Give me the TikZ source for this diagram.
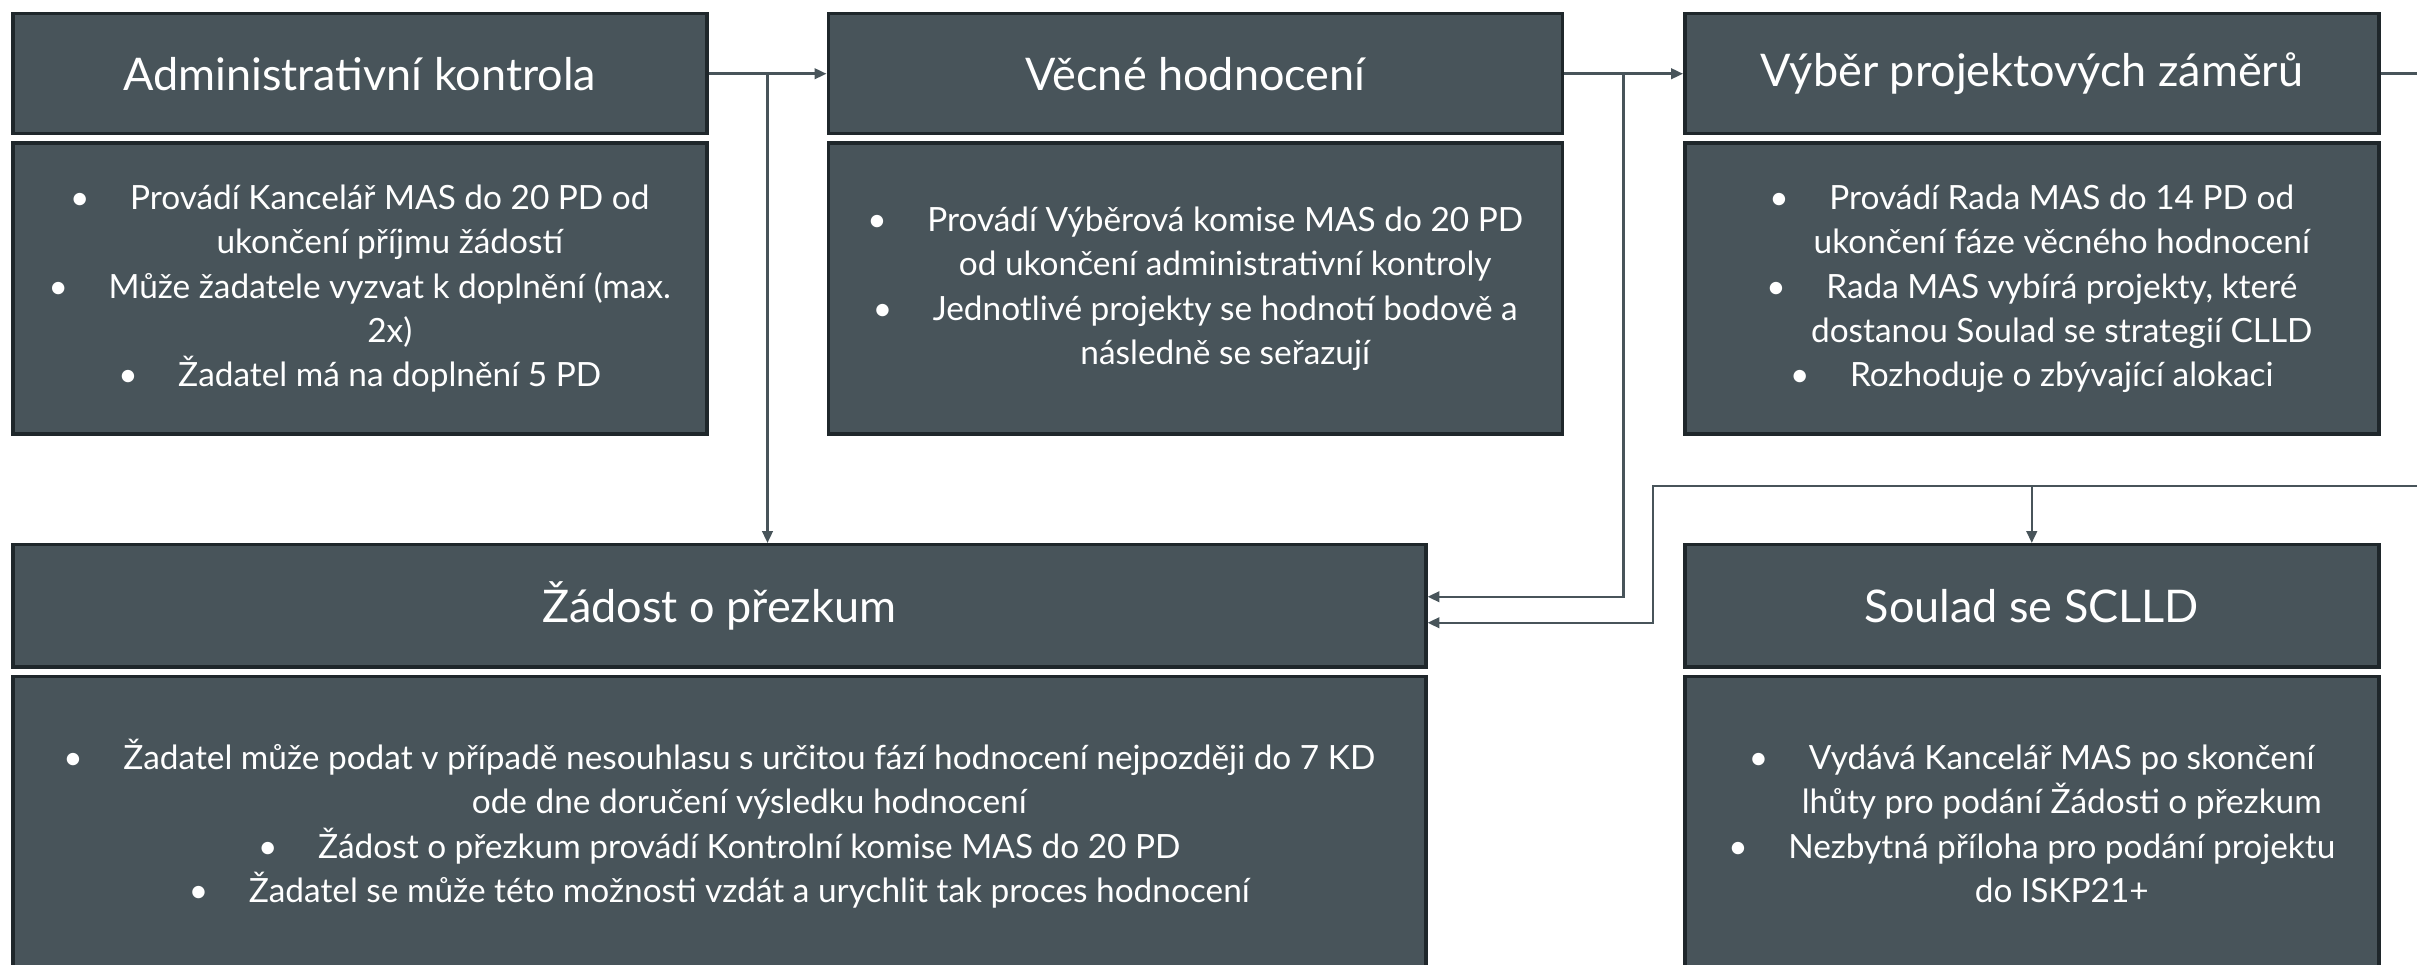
\documentclass[tikz,border=0pt]{standalone}
\usepackage{fontspec}
\setmainfont{Lato}
\usepackage{xcolor}
\usepackage{tikz}
\usetikzlibrary{positioning,arrows.meta,calc}
\definecolor{slate}{HTML}{48545A}
\definecolor{edge}{HTML}{1F272B}
\tikzset{>={Triangle[length=3.4pt,width=3pt]}}
\newcommand{\bitem}{\makebox[6mm][l]{•}}
\newcommand{\bcont}{\hspace*{6mm}}

\begin{document}
\begin{tikzpicture}[
headnode/.style={rectangle, align=center, draw=edge, line width=0.35mm, fill=slate, text=white, font=\fontsize{12.8}{15}\selectfont, minimum width=69.4mm, minimum height=12mm},
bodynode/.style={rectangle, align=center, draw=edge, line width=0.35mm, fill=slate, text=white, font=\fontsize{9.5}{12.6}\selectfont, minimum width=69.4mm, minimum height=29.1mm},
link/.style={->, draw=slate, line width=0.25mm},
]
\useasboundingbox (0,0) rectangle (241.7mm,-96.5mm);
%Nodes
\node[headnode, anchor=north west](AdminHead) at (1.1mm,-1.2mm){Administrativní kontrola};
\node[bodynode](AdminBody)[below=0.6mm of AdminHead]{\bitem Provádí Kancelář MAS do 20 PD od\\ \bcont ukončení příjmu žádostí\\ \bitem Může žadatele vyzvat k doplnění (max.\\ \bcont 2x)\\ \bitem Žadatel má na doplnění 5 PD};
\node[headnode, minimum width=73.4mm](VecneHead)[right=11.8mm of AdminHead]{Věcné hodnocení};
\node[bodynode, minimum width=73.4mm](VecneBody)[below=0.6mm of VecneHead]{\bitem Provádí Výběrová komise MAS do 20 PD\\ \bcont od ukončení administrativní kontroly\\ \bitem Jednotlivé projekty se hodnotí bodově a\\ \bcont následně se seřazují};
\node[headnode](VyberHead)[right=11.9mm of VecneHead]{Výběr projektových záměrů};
\node[bodynode](VyberBody)[below=0.6mm of VyberHead]{\bitem Provádí Rada MAS do 14 PD od\\ \bcont ukončení fáze věcného hodnocení\\ \bitem Rada MAS vybírá projekty, které\\ \bcont dostanou Soulad se strategií CLLD\\ \bitem Rozhoduje o zbývající alokaci};
\node[headnode, minimum width=141.3mm, minimum height=12.2mm](ZadostHead)[below=10.7mm of AdminBody.south west, anchor=north west]{Žádost o přezkum};
\node[bodynode, minimum width=141.3mm, minimum height=29.5mm](ZadostBody)[below=0.6mm of ZadostHead]{\bitem Žadatel může podat v případě nesouhlasu s určitou fází hodnocení nejpozději do 7 KD\\ \bcont ode dne doručení výsledku hodnocení\\ \bitem Žádost o přezkum provádí Kontrolní komise MAS do 20 PD\\ \bitem Žadatel se může této možnosti vzdát a urychlit tak proces hodnocení};
\node[headnode, minimum height=12.2mm](SouladHead)[below=10.7mm of VyberBody]{Soulad se SCLLD};
\node[bodynode, minimum height=29.5mm](SouladBody)[below=0.6mm of SouladHead]{\bitem Vydává Kancelář MAS po skončení\\ \bcont lhůty pro podání Žádosti o přezkum\\ \bitem Nezbytná příloha pro podání projektu\\ \bcont do ISKP21+};

%Lines
\coordinate (b1) at ($(AdminHead.east)!0.5!(VecneHead.west)$);
\coordinate (b2) at ($(VecneHead.east)!0.5!(VyberHead.west)$);
\coordinate (r1) at ([xshift=6mm]VyberHead.east);
\coordinate (j1) at ([yshift=5.7mm]SouladHead.north);
\coordinate (j2) at ([xshift=-3mm]SouladHead.west |- j1);
\draw[link] (AdminHead) -- (VecneHead);
\draw[link] (b1) -- (b1 |- ZadostHead.north);
\draw[link] (VecneHead) -- (VyberHead);
\draw[link] (b2) |- ([yshift=0.9mm]ZadostHead.east);
\draw[link] (VyberHead.east) -- (r1) |- (j1) -- (SouladHead);
\draw[link] (j1) -- (j2) |- ([yshift=-1.7mm]ZadostHead.east);
\end{tikzpicture}
\end{document}
